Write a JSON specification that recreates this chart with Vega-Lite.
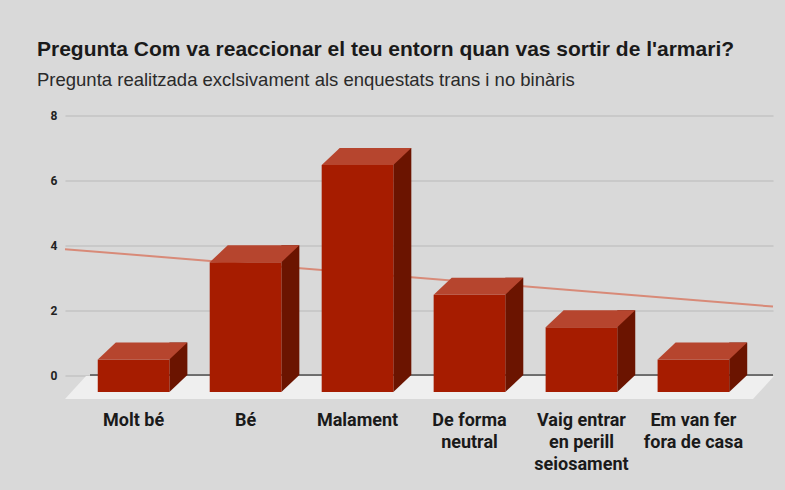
{
  "$schema": "https://vega.github.io/schema/vega-lite/v6.json",
  "width": 683,
  "height": 259.5,
  "autosize": {"type": "none"},
  "padding": {"left": 90, "top": 115.5, "right": 12, "bottom": 115},
  "background": "#d9d9d9",
  "title": {
    "text": "Pregunta Com va reaccionar el teu entorn quan vas sortir de l'armari?",
    "subtitle": "Pregunta realitzada exclsivament als enquestats trans i no binàris",
    "anchor": "start",
    "frame": "group",
    "dx": -53,
    "offset": 20,
    "font": "Liberation Sans",
    "fontSize": 21,
    "fontWeight": "bold",
    "color": "#1a1a1a",
    "subtitleFont": "Liberation Sans",
    "subtitleFontSize": 18.5,
    "subtitleColor": "#2a2a2a",
    "subtitlePadding": 11
  },
  "config": {
    "view": {"stroke": null},
    "axisY": {
      "domain": false,
      "ticks": false,
      "grid": true,
      "gridColor": "#b9b9b9",
      "gridWidth": 1,
      "labelFont": "Roboto",
      "labelFontWeight": "bold",
      "labelFontSize": 12,
      "labelColor": "#222222",
      "labelPadding": 33
    }
  },
  "datasets": {
    "answers": [
      {"cat": "Molt bé", "count": 1},
      {"cat": "Bé", "count": 4},
      {"cat": "Malament", "count": 7},
      {"cat": "De forma neutral", "count": 3},
      {"cat": "Vaig entrar en perill seiosament", "count": 2},
      {"cat": "Em van fer fora de casa", "count": 1}
    ],
    "trend": [
      {"pos": 0.5, "trend": 3.88},
      {"pos": 6.5, "trend": 2.11}
    ]
  },
  "layer": [
    {
      "data": {"values": [{}]},
      "mark": {"type": "point", "shape": "M-345.5,1L342.5,1L321.5,24L-366.5,24Z", "size": 4, "filled": true, "opacity": 1, "color": "#efefef", "strokeWidth": 0},
      "encoding": {"y": {"datum": 0, "type": "quantitative", "scale": {"domain": [0, 8]}, "title": null, "axis": {"values": [0, 2, 4, 6, 8]}}}
    },
    {
      "data": {"values": [{}]},
      "mark": {"type": "rule", "color": "#4d4d4d", "strokeWidth": 1.5},
      "encoding": {"y": {"datum": 0, "type": "quantitative", "title": null}}
    },
    {
      "data": {"name": "trend"},
      "mark": {"type": "line", "color": "#d88a78", "strokeWidth": 2},
      "encoding": {
        "x": {"field": "pos", "type": "quantitative", "scale": {"domain": [0.5, 6.5], "range": [-25, 683]}, "axis": null},
        "y": {"field": "trend", "type": "quantitative", "title": null}
      }
    },
    {
      "data": {"name": "answers"},
      "encoding": {
        "x": {
          "field": "cat",
          "type": "nominal",
          "sort": null,
          "scale": {"paddingInner": 0.36, "paddingOuter": 0.23},
          "title": null,
          "axis": {
            "domain": false,
            "ticks": false,
            "grid": false,
            "labelAngle": 0,
            "labelOffset": -18,
            "labelPadding": 36,
            "labelFont": "Roboto",
            "labelFontWeight": "bold",
            "labelFontSize": 18,
            "labelLineHeight": 22,
            "labelColor": "#1a1a1a",
            "labelLimit": 0,
            "labelOverlap": false,
            "labelExpr": "datum.value == 'De forma neutral' ? ['De forma', 'neutral'] : datum.value == 'Vaig entrar en perill seiosament' ? ['Vaig entrar', 'en perill', 'seiosament'] : datum.value == 'Em van fer fora de casa' ? ['Em van fer', 'fora de casa'] : datum.value"
          }
        },
        "y": {"field": "count", "type": "quantitative", "title": null}
      },
      "layer": [
        {
          "mark": {"type": "bar", "width": 18, "xOffset": 26.8, "color": "#6b1400"}
        },
        {
          "mark": {"type": "point", "shape": "M17.8,0L35.8,0L17.8,17Z", "size": 4, "filled": true, "opacity": 1, "color": "#6b1400", "strokeWidth": 0},
          "encoding": {"y": {"datum": 0, "type": "quantitative"}}
        },
        {
          "mark": {"type": "bar", "xOffset": -18, "yOffset": 17, "y2Offset": 17, "color": "#a61c00"},
          "encoding": {"y2": {"datum": 0}}
        },
        {
          "mark": {"type": "point", "shape": "M-35.8,0L35.8,0L17.8,17L-53.8,17Z", "size": 4, "filled": true, "opacity": 1, "color": "#b6452e", "strokeWidth": 0}
        }
      ]
    }
  ],
  "resolve": {"scale": {"x": "independent"}, "axis": {"x": "independent"}}
}
